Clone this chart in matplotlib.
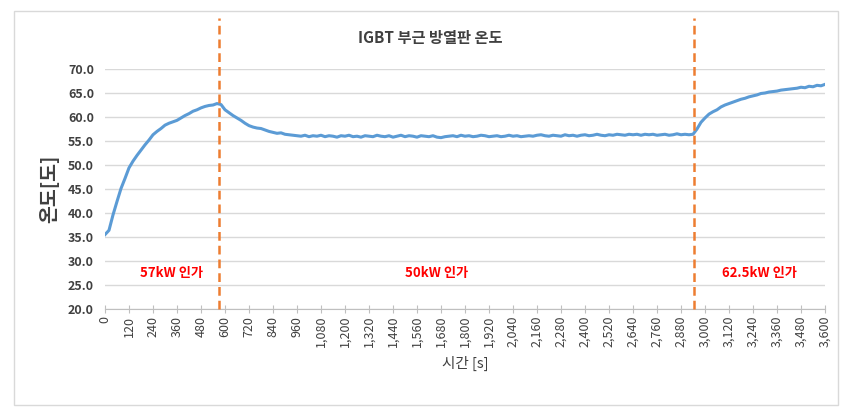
import numpy as np
import matplotlib
matplotlib.use("Agg")
import matplotlib.pyplot as plt
from matplotlib.patches import Rectangle
from matplotlib.ticker import FuncFormatter

plt.rcParams['font.family'] = ['Noto Sans CJK KR', 'DejaVu Sans']

# time in seconds, one sample every 20 s
time_s = np.arange(0, 3601, 20)

temp = [
    35.5, 36.4, 39.6, 42.4, 45.1, 47.2, 49.4, 50.8, 52.0, 53.1,
    54.2, 55.2, 56.3, 57.0, 57.6, 58.3, 58.7, 59.0, 59.3, 59.8,
    60.3, 60.7, 61.2, 61.5, 61.9, 62.2, 62.4, 62.5, 62.8, 62.6,
    61.5, 60.9, 60.3, 59.8, 59.3, 58.7, 58.2, 57.9, 57.7, 57.6,
    57.3, 57.0, 56.8, 56.6, 56.7, 56.4, 56.3, 56.2, 56.1, 56.0,
    56.2, 55.9, 56.1, 56.0, 56.2, 55.9, 56.1, 56.0, 55.8, 56.1,
    56.0, 56.2, 55.9, 56.0, 55.8, 56.1, 56.0, 55.9, 56.2, 56.0,
    55.9, 56.1, 55.8, 56.0, 56.2, 55.9, 56.1, 56.0, 55.8, 56.1,
    56.0, 55.9, 56.1, 55.8, 55.7, 55.9, 56.0, 56.1, 55.9, 56.2,
    56.0, 56.1, 55.9, 56.0, 56.2, 56.1, 55.9, 56.0, 56.1, 55.9,
    56.0, 56.2, 56.0, 56.1, 55.9, 56.0, 56.1, 56.0, 56.2, 56.3,
    56.1, 56.0, 56.2, 56.1, 56.0, 56.3, 56.1, 56.2, 56.0, 56.2,
    56.3, 56.1, 56.2, 56.4, 56.2, 56.1, 56.3, 56.2, 56.4, 56.3,
    56.2, 56.4, 56.3, 56.4, 56.2, 56.4, 56.3, 56.4, 56.2, 56.3,
    56.4, 56.2, 56.3, 56.5, 56.3, 56.4, 56.3, 56.4, 57.5, 58.9,
    59.8, 60.6, 61.1, 61.5, 62.1, 62.5, 62.8, 63.1, 63.4, 63.7,
    63.9, 64.2, 64.4, 64.6, 64.9, 65.0, 65.2, 65.3, 65.4, 65.6,
    65.7, 65.8, 65.9, 66.0, 66.2, 66.1, 66.4, 66.3, 66.6, 66.5,
    66.8,
]

load_change_s = [570, 2945]
load_labels = ["57kW 인가", "50kW 인가", "62.5kW 인가"]
label_x = [330, 1660, 3270]

fig = plt.figure(figsize=(8.49, 4.16), dpi=100)
fig.patches.append(Rectangle((14 / 849, 1 - 405 / 416), 824 / 849, 394 / 416,
                             transform=fig.transFigure, fill=False,
                             edgecolor='#d9d9d9', linewidth=1))
ax = fig.add_axes([105 / 849, 1 - 309 / 416, 720 / 849, 240 / 416])

ax.plot(time_s, temp, color='#5b9bd5', linewidth=2.2, zorder=3)

for t in load_change_s:
    ax.plot([t, t], [0, 1.2125], transform=ax.get_xaxis_transform(),
            color='#ed7d31', linewidth=1.8, linestyle=(0, (3.5, 2)),
            clip_on=False, zorder=4)

for x, s in zip(label_x, load_labels):
    ax.text(x, 27.5, s, color='#ff0000', fontsize=9.5, fontweight='bold',
            ha='center', va='center')

ax.set_xlim(0, 3600)
ax.set_ylim(20, 70)
ax.set_xticks(np.arange(0, 3601, 120))
ax.set_yticks(np.arange(20, 71, 5))
ax.xaxis.set_major_formatter(FuncFormatter(lambda v, p: f"{int(v):,}"))
ax.yaxis.set_major_formatter(FuncFormatter(lambda v, p: f"{v:.1f}"))

ax.grid(axis='y', color='#d9d9d9', linewidth=1)
ax.set_axisbelow(True)
for side in ['top', 'right', 'left']:
    ax.spines[side].set_visible(False)
ax.spines['bottom'].set_color('#bfbfbf')
ax.tick_params(axis='x', direction='inout', length=6, color='#bfbfbf',
               labelsize=9, labelcolor='#404040', labelrotation=90, pad=2)
ax.tick_params(axis='y', length=0, labelsize=9, labelcolor='#404040', pad=8)
for lab in ax.get_yticklabels():
    lab.set_fontweight('bold')

ax.set_ylabel("온도[도]", fontsize=14, color='#404040', fontweight='bold',
              labelpad=6)
ax.set_xlabel("시간 [s]", fontsize=10.5, color='#404040', labelpad=6)
fig.text(430 / 849, 1 - 38 / 416, "IGBT 부근 방열판 온도", fontsize=11,
         fontweight='bold', color='#404040', ha='center', va='center')

fig.savefig("out.png", dpi=100)
